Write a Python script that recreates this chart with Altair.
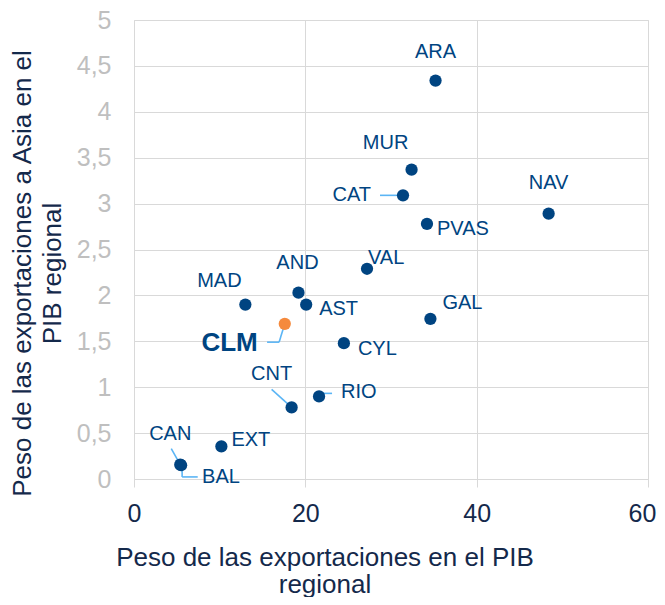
import altair as alt
import pandas as pd

# ---- data ----
regions = ["ARA", "MUR", "CAT", "PVAS", "NAV", "VAL", "MAD", "AND", "AST",
           "GAL", "CYL", "CLM", "CNT", "RIO", "EXT", "CAN", "BAL"]
export_share = [35.2, 32.4, 31.4, 34.2, 48.4, 27.2, 13.0, 19.2, 20.1,
                34.6, 24.5, 17.6, 18.4, 21.6, 10.2, 5.4, 5.5]
asia_share = [4.34, 3.37, 3.09, 2.78, 2.89, 2.29, 1.90, 2.03, 1.90,
              1.745, 1.48, 1.69, 0.78, 0.90, 0.355, 0.156, 0.15]
x_ticks = [0, 20, 40, 60]
y_ticks = [0, 0.5, 1, 1.5, 2, 2.5, 3, 3.5, 4, 4.5, 5]

x_title = ["Peso de las exportaciones en el PIB", "regional"]
y_title = ["Peso de las exportaciones a Asia en el", "PIB regional"]

# ---- label placement (pixel offsets, styling only) ----
label_style = {
    "ARA": (0, -29, "center"), "MUR": (-26, -27, "center"),
    "CAT": (-32, 0, "right"), "PVAS": (10, 5, "left"),
    "NAV": (0, -31, "center"), "VAL": (1, -11, "left"),
    "MAD": (-26, -24, "center"), "AND": (-1, -30, "center"),
    "AST": (13, 4, "left"), "GAL": (12, -16, "left"),
    "CYL": (14, 6, "left"), "CLM": (-27, 19, "right"),
    "CNT": (-20, -33, "center"), "RIO": (22, -4, "left"),
    "EXT": (10, -6, "left"), "CAN": (-10, -31, "center"),
    "BAL": (21, 12, "left"),
}
# leader segments: (region, x0, y0, x1, y1) pixel offsets from the point
leaders = [
    ("CAT", -23, 0, 0, 0),
    ("CLM", -17.7, 18.3, -5.7, 18.3), ("CLM", -5.7, 18.3, 0, 0),
    ("CNT", -20, -18, 0, 0),
    ("RIO", 0, -3, 13, -3),
    ("CAN", -9, -16, 0, 0),
    ("BAL", 1, 0, 1, 11.7), ("BAL", 1, 11.7, 16.6, 11.7),
]

df = pd.DataFrame({"region": regions, "x": export_share, "y": asia_share})
df["hl"] = df["region"].eq("CLM")

NAVY = "#004481"
TXT = "#14294B"
FONT = "Liberation Sans"

xscale = alt.Scale(domain=[0, 60], nice=False)
yscale = alt.Scale(domain=[0, 5], nice=False)

xenc = alt.X("x:Q", scale=xscale, axis=alt.Axis(
    values=x_ticks, title=x_title, grid=True, gridColor="#D9D9D9",
    domain=False, ticks=True, tickColor="#D9D9D9", tickSize=8,
    labelFontSize=25, labelColor=TXT, labelPadding=14, labelFont=FONT,
    labelFlush=False,
    labelOffset={"condition": {"test": "datum.value == 60", "value": -6},
                 "value": 0},
    titleFontSize=26, titleFontWeight="normal", titleColor=TXT, titleFont=FONT,
    titleX=190.5, titleY=86, titleAlign="center", titleBaseline="alphabetic",
    titleLineHeight=27))
yenc = alt.Y("y:Q", scale=yscale, axis=alt.Axis(
    values=y_ticks, title=y_title, grid=True, gridColor="#D9D9D9",
    domain=False, ticks=False, labelFontSize=25, labelColor="#BFBFBF",
    labelPadding=23, labelFont=FONT,
    labelExpr="replace(toString(datum.value), '.', ',')",
    titleFontSize=26, titleFontWeight="normal", titleColor=TXT, titleFont=FONT,
    titleX=-104, titleY=253, titleAngle=270, titleAlign="center",
    titleBaseline="alphabetic", titleLineHeight=30))

base = alt.Chart(df)
layers = []

for reg, x0, y0, x1, y1 in leaders:
    layers.append(
        base.transform_filter(alt.datum.region == reg)
        .mark_rule(color="#5BB5F5", strokeWidth=1.6,
                   xOffset=x0, yOffset=y0, x2Offset=x1, y2Offset=y1)
        .encode(x=alt.X("x:Q", scale=xscale), y=alt.Y("y:Q", scale=yscale),
                x2="x:Q", y2="y:Q")
    )

points = base.mark_circle(size=150, opacity=1).encode(
    x=xenc, y=yenc,
    color=alt.Color("hl:N", scale=alt.Scale(domain=[False, True],
                                            range=[NAVY, "#F58A3D"]),
                    legend=None),
)
layers.append(points)

for reg in regions:
    dx, dy, align = label_style[reg]
    bold = reg == "CLM"
    layers.append(
        base.transform_filter(alt.datum.region == reg)
        .mark_text(dx=dx, dy=dy, align=align, baseline="middle", font=FONT,
                   fontSize=26 if bold else 20,
                   fontWeight="bold" if bold else "normal", color=NAVY)
        .encode(x=alt.X("x:Q", scale=xscale), y=alt.Y("y:Q", scale=yscale),
                text="region:N")
    )

chart = alt.layer(*layers).properties(
    width=514, height=459,
    autosize=alt.AutoSizeParams(type="none"),
    padding={"left": 126, "top": 12, "right": 9, "bottom": 118},
).configure_view(stroke=None).configure(background="white")

chart.save("out.html", embed_options={"renderer": "svg", "actions": False})
